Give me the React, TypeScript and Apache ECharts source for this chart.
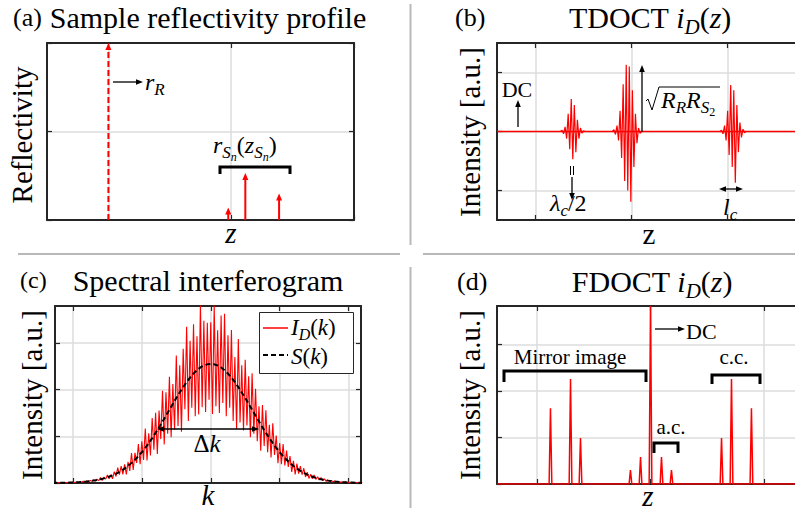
import React, { useEffect, useRef } from "react";
import * as echarts from "echarts";

// ---------------- data ----------------
// (a) sample reflectivity profile
const A_TICKS_X = [0, 1, 2];
const A_TICKS_Y = [0, 1, 2];
const A_REF_Z = [0];
const A_REF_R = [2];
const A_SAMPLE_Z = [0.976, 1.115, 1.39];
const A_SAMPLE_R = [0.14, 0.53, 0.3];

// (b) TDOCT wave packets (extrema)
const B_TICKS_X = [0, 1, 2];
const B_TICKS_Y = [-1, 0, 1];
const B_BASE_Z = [-0.4, 2.8];
const B_BASE_I = [0, 0];
const B_CENTERS = [0.39, 0.955, 2.06];
const B_STEP = 0.016;
const B_PACKET_1 = [0, 0.02, -0.04, 0.08, -0.12, 0.3, -0.3, 0.55, -0.47, 0.45, -0.35, 0.2, -0.12, 0.06, -0.03, 0.01, 0];
const B_PACKET_2 = [0, 0.03, -0.05, 0.1, -0.15, 0.35, -0.45, 0.8, -0.84, 1.13, -1.0, 1.1, -1.19, 0.7, -0.6, 0.3, -0.2, 0.06, -0.03, 0];
const B_PACKET_3 = [0, 0.02, -0.04, 0.1, -0.15, 0.35, -0.4, 0.79, -0.6, 0.7, -0.87, 0.45, -0.35, 0.15, -0.1, 0.04, -0.02, 0];

// (c) spectral interferogram
const C_TICKS_X = [0, 1, 2, 3, 4];
const C_TICKS_Y = [0, 1, 2, 3];
const C_ID_START = -0.25;
const C_ID_STEP = 0.025;
const C_ID = [
  0.005, 0.004, 0.007, 0.005, 0.008, 0.005, 0.010, 0.006, 0.012, 0.008,
  0.014, 0.010, 0.021, 0.012, 0.023, 0.014, 0.036, 0.021, 0.042, 0.022,
  0.055, 0.037, 0.074, 0.038, 0.081, 0.050, 0.120, 0.053, 0.129, 0.083,
  0.171, 0.088, 0.179, 0.090, 0.243, 0.139, 0.327, 0.179, 0.364, 0.185,
  0.402, 0.185, 0.455, 0.257, 0.641, 0.277, 0.646, 0.428, 0.832, 0.400,
  0.891, 0.494, 1.167, 0.481, 1.066, 0.589, 1.392, 0.711, 1.504, 0.623,
  1.550, 0.940, 1.973, 0.827, 1.945, 1.053, 2.274, 0.979, 2.118, 1.142,
  2.729, 1.221, 2.521, 1.098, 2.876, 1.581, 3.348, 1.326, 3.048, 1.611,
  3.397, 1.429, 3.141, 1.469, 3.836, 1.623, 3.472, 1.519, 3.430, 1.784,
  3.443, 1.478, 3.812, 1.645, 3.271, 1.498, 3.589, 1.714, 3.624, 1.429,
  3.163, 1.611, 3.274, 1.326, 2.700, 1.159, 3.081, 1.298, 2.521, 1.127,
  2.638, 1.230, 2.287, 0.979, 2.352, 1.053, 2.017, 0.896, 1.644, 0.689,
  1.669, 0.792, 1.557, 0.660, 1.248, 0.544, 1.280, 0.602, 1.017, 0.423,
  0.858, 0.400, 0.832, 0.375, 0.696, 0.346, 0.576, 0.237, 0.473, 0.185,
  0.417, 0.199, 0.364, 0.179, 0.316, 0.129, 0.234, 0.098, 0.186, 0.088,
  0.171, 0.077, 0.134, 0.067, 0.116, 0.050, 0.088, 0.035, 0.066, 0.035,
  0.055, 0.025, 0.045, 0.021, 0.034, 0.015, 0.024, 0.011, 0.020, 0.010,
  0.014,
  0.008, 0.012, 0.006, 0.010, 0.005, 0.008, 0.004, 0.006,
];
const C_S_START = -0.3;
const C_S_STEP = 0.05;
const C_S = [
  0.002, 0.003, 0.004, 0.005, 0.007, 0.009, 0.011, 0.015, 0.019, 0.025,
  0.032, 0.041, 0.051, 0.065, 0.080, 0.099, 0.122, 0.149, 0.180, 0.218,
  0.260, 0.309, 0.364, 0.427, 0.497, 0.574, 0.660, 0.753, 0.853, 0.960,
  1.074, 1.192, 1.315, 1.441, 1.568, 1.694, 1.819, 1.939, 2.054, 2.160,
  2.258, 2.343, 2.416, 2.475, 2.516, 2.541, 2.550,
  2.541, 2.516, 2.475, 2.416, 2.343, 2.258, 2.160, 2.054, 1.939, 1.819,
  1.694, 1.568, 1.441, 1.315, 1.192, 1.074, 0.960, 0.853, 0.753, 0.660,
  0.574, 0.497, 0.427, 0.364, 0.309, 0.260, 0.218, 0.180, 0.149, 0.122,
  0.099, 0.080, 0.065, 0.051, 0.041, 0.032, 0.025, 0.019, 0.015, 0.011,
  0.009, 0.007, 0.005, 0.004, 0.003, 0.002,
];

// (d) FDOCT peaks
const D_TICKS_X = [-1, 0, 1];
const D_TICKS_Y = [0, 1, 2, 3];
const D_PEAK_Z = [-0.883, -0.706, -0.618, -0.177, -0.088, 0, 0.097, 0.185, 0.627, 0.715, 0.891];
const D_PEAK_H = [1.63, 2.26, 0.99, 0.3, 0.58, 3.83, 0.58, 0.3, 0.99, 2.26, 1.63];
const D_PEAK_HALF = 0.012;

// ---------------- style / layout ----------------
const FONT = "Liberation Serif, Times New Roman, serif";
const RED = "#ff0000";
const AX = "#262626";
const GRIDC = "#dcdcdc";
const SEP = "#b8b8b8";

const PANELS = [
  { left: 47, top: 43, width: 307, height: 177, x: [-0.5, 2], y: [0, 2], xt: A_TICKS_X, yt: A_TICKS_Y },
  { left: 497, top: 43, width: 307, height: 177, x: [-0.4, 2.8], y: [-1.5, 1.5], xt: B_TICKS_X, yt: B_TICKS_Y },
  { left: 55, top: 306, width: 306, height: 177, x: [-0.26, 4.18], y: [0, 3.79], xt: C_TICKS_X, yt: C_TICKS_Y },
  { left: 497, top: 306, width: 307, height: 178, x: [-1.355, 1.355], y: [0, 3.83], xt: D_TICKS_X, yt: D_TICKS_Y },
];

function fontStr(size: number, italic: boolean) {
  return `${italic ? "italic" : "normal"} normal ${size}px ${FONT}`;
}

function rich(b: number) {
  const s = Math.round(b * 0.7);
  const ss = Math.round(b * 0.5);
  const padS = [Math.round(b * 0.62), 0, 0, 0];
  const padSS = [Math.round(b * 1.0), 0, 0, 0];
  return {
    rm: { font: fontStr(b, false), fontFamily: FONT, fontSize: b, verticalAlign: "middle" },
    it: { font: fontStr(b, true), fontFamily: FONT, fontSize: b, fontStyle: "italic", verticalAlign: "middle" },
    sub: { font: fontStr(s, true), fontFamily: FONT, fontSize: s, fontStyle: "italic", verticalAlign: "middle", padding: padS },
    subrm: { font: fontStr(s, false), fontFamily: FONT, fontSize: s, verticalAlign: "middle", padding: padS },
    ssub: { font: fontStr(ss, true), fontFamily: FONT, fontSize: ss, fontStyle: "italic", verticalAlign: "middle", padding: padSS },
    ssubrm: { font: fontStr(ss, false), fontFamily: FONT, fontSize: ss, verticalAlign: "middle", padding: padSS },
  };
}

function T(x: number, y: number, text: string, size: number, align = "left", rotation = 0): any {
  return {
    type: "text",
    x,
    y,
    rotation,
    z: 100,
    silent: true,
    style: {
      text,
      fill: "#000",
      font: fontStr(size, false),
      fontFamily: FONT,
      fontSize: size,
      align,
      verticalAlign: "middle",
      lineHeight: size,
      rich: rich(size),
    },
  };
}

function arrow(x1: number, y1: number, x2: number, y2: number, both = false, w = 1.3): any[] {
  const L = 7;
  const H = 2.8;
  const dx = x2 - x1;
  const dy = y2 - y1;
  const len = Math.hypot(dx, dy);
  const ux = dx / len;
  const uy = dy / len;
  const px = -uy;
  const py = ux;
  const head = (tx: number, ty: number, sx: number, sy: number) => ({
    type: "polygon",
    z: 100,
    silent: true,
    shape: {
      points: [
        [tx, ty],
        [tx - sx * L + px * H, ty - sy * L + py * H],
        [tx - sx * L - px * H, ty - sy * L - py * H],
      ],
    },
    style: { fill: "#000" },
  });
  const s = both ? [x1 + ux * L * 0.8, y1 + uy * L * 0.8] : [x1, y1];
  const e = [x2 - ux * L * 0.8, y2 - uy * L * 0.8];
  const els: any[] = [
    { type: "line", z: 100, silent: true, shape: { x1: s[0], y1: s[1], x2: e[0], y2: e[1] }, style: { stroke: "#000", lineWidth: w } },
    head(x2, y2, ux, uy),
  ];
  if (both) els.push(head(x1, y1, -ux, -uy));
  return els;
}

function poly(points: number[][], w = 3, color = "#000", dash: any = null): any {
  return { type: "polyline", z: 100, silent: true, shape: { points }, style: { stroke: color, lineWidth: w, fill: "none", lineDash: dash } };
}

function seg(x1: number, y1: number, x2: number, y2: number, w: number, color: string, dash: any = null): any {
  return { type: "line", z: 100, silent: true, shape: { x1, y1, x2, y2 }, style: { stroke: color, lineWidth: w, lineDash: dash } };
}

function buildAxes() {
  const xAxis: any[] = [];
  const yAxis: any[] = [];
  PANELS.forEach((p, g) => {
    const axLine = () => ({ show: true, onZero: false, lineStyle: { color: AX, width: 2 } });
    const tick = (vals: number[]) => ({ show: true, inside: true, length: 5, customValues: vals, lineStyle: { color: AX, width: 1.2 } });
    ["bottom", "top"].forEach((pos, k) => {
      xAxis.push({
        type: "value",
        gridIndex: g,
        position: pos,
        min: p.x[0],
        max: p.x[1],
        axisLine: axLine(),
        axisTick: tick(p.xt),
        axisLabel: { show: false, customValues: p.xt },
        splitLine: { show: k === 0, lineStyle: { color: GRIDC, width: 1.5 } },
      });
    });
    ["left", "right"].forEach((pos, k) => {
      yAxis.push({
        type: "value",
        gridIndex: g,
        position: pos,
        min: p.y[0],
        max: p.y[1],
        axisLine: axLine(),
        axisTick: tick(p.yt),
        axisLabel: { show: false, customValues: p.yt },
        splitLine: { show: k === 0, lineStyle: { color: GRIDC, width: 1.5 } },
      });
    });
  });
  return { xAxis, yAxis };
}

function stemSeries(zs: number[], rs: number[], dashed: boolean): any {
  return {
    type: "custom",
    xAxisIndex: 0,
    yAxisIndex: 0,
    silent: true,
    z: 10,
    clip: false,
    data: zs.map((z, i) => [z, rs[i]]),
    renderItem: (_params: any, api: any) => {
      const z = api.value(0);
      const r = api.value(1);
      const p0 = api.coord([z, 0]);
      const p1 = api.coord([z, r]);
      const L = 7;
      const H = 3;
      return {
        type: "group",
        children: [
          {
            type: "line",
            shape: { x1: p0[0], y1: p0[1], x2: p1[0], y2: p1[1] + L * 0.8 },
            style: { stroke: RED, lineWidth: 2, lineDash: dashed ? [6, 3] : null },
          },
          {
            type: "polygon",
            shape: { points: [[p1[0], p1[1]], [p1[0] - H, p1[1] + L], [p1[0] + H, p1[1] + L]] },
            style: { fill: RED },
          },
        ],
      };
    },
  };
}

// red base line of panel (b), drawn on top through the axes' scales
function baseSeries(): any {
  return {
    type: "custom",
    xAxisIndex: 2,
    yAxisIndex: 2,
    silent: true,
    z: 20,
    data: [[B_BASE_Z[0], B_BASE_I[0], B_BASE_Z[1], B_BASE_I[1]]],
    renderItem: (_params: any, api: any) => {
      const a = api.coord([api.value(0), api.value(1)]);
      const b = api.coord([api.value(2), api.value(3)]);
      return {
        type: "line",
        shape: { x1: a[0], y1: a[1], x2: b[0], y2: b[1] },
        style: { stroke: RED, lineWidth: 1.7 },
      };
    },
  };
}

function buildOption(): any {
  const { xAxis, yAxis } = buildAxes();

  // (b) series data
  const bData: number[][] = [[B_BASE_Z[0], B_BASE_I[0]]];
  [B_PACKET_1, B_PACKET_2, B_PACKET_3].forEach((pk, j) => {
    const c = B_CENTERS[j];
    pk.forEach((v, k) => bData.push([c + (k - (pk.length - 1) / 2) * B_STEP, v]));
  });
  bData.push([B_BASE_Z[1], B_BASE_I[1]]);

  // (c) series data
  const idData = C_ID.map((v, i) => [C_ID_START + i * C_ID_STEP, v]);
  const sData = C_S.map((v, i) => [C_S_START + i * C_S_STEP, v]);

  // (d) series data
  const dData: number[][] = [[PANELS[3].x[0], 0]];
  D_PEAK_Z.forEach((z, i) => {
    dData.push([z - D_PEAK_HALF, 0], [z, D_PEAK_H[i]], [z + D_PEAK_HALF, 0]);
  });
  dData.push([PANELS[3].x[1], 0]);

  const lineBase = { type: "line", showSymbol: false, symbol: "none", silent: true, z: 10 };

  const elements: any[] = [
    // separators
    seg(410.5, 4, 410.5, 245, 2, SEP),
    seg(410.5, 267, 410.5, 508, 2, SEP),
    seg(18, 254, 400, 254, 2, SEP),
    seg(423, 254, 795, 254, 2, SEP),

    // titles
    T(13, 17, "(a)", 26),
    T(208, 17, "Sample reflectivity profile", 30, "center"),
    T(455, 17, "(b)", 26),
    T(650, 17, "{rm|TDOCT }{it|i}{sub|D}{rm|(}{it|z}{rm|)}", 30, "center"),
    T(20, 280, "(c)", 24),
    T(208, 280, "Spectral interferogram", 30, "center"),
    T(457, 281, "(d)", 26),
    T(652, 281, "{rm|FDOCT }{it|i}{sub|D}{rm|(}{it|z}{rm|)}", 30, "center"),

    // axis labels
    T(22, 135, "Reflectivity", 29, "center", Math.PI / 2),
    T(470, 132, "Intensity [a.u.]", 29, "center", Math.PI / 2),
    T(32, 395, "Intensity [a.u.]", 29, "center", Math.PI / 2),
    T(470, 395, "Intensity [a.u.]", 29, "center", Math.PI / 2),
    T(231, 233, "{it|z}", 29, "center"),
    T(649, 234, "z", 29, "center"),
    T(208, 495, "{it|k}", 29, "center"),
    T(648, 496, "{it|z}", 29, "center"),

    // (a) annotations
    ...arrow(113, 82, 143, 82),
    T(145, 82, "{it|r}{sub|R}", 24),
    poly([[220, 174], [220, 167], [290, 167], [290, 174]], 3),
    T(213, 145, "{it|r}{sub|S}{ssub|n}{rm|(}{it|z}{sub|S}{ssub|n}{rm|)}", 24),

    // (b) annotations
    T(517, 89, "DC", 22, "center"),
    ...arrow(518, 127, 518, 100),
    ...arrow(642, 132, 642, 65),
    poly([[646, 101], [648, 99], [652, 110], [659, 87], [720, 87]], 1),
    T(661, 100, "{it|R}{sub|R}{it|R}{sub|S}{ssubrm|2}", 24),
    seg(570.5, 166, 570.5, 175, 1, "#000"),
    seg(573.5, 166, 573.5, 175, 1, "#000"),
    ...arrow(572, 177, 572, 200),
    T(550, 203, "{it|λ}{sub|c}{rm|/2}", 24),
    ...arrow(719, 189, 743, 189, true),
    T(723, 207, "{it|l}{sub|c}", 24),

    // (c) legend + annotations
    { type: "rect", z: 100, silent: true, shape: { x: 259.5, y: 312.5, width: 94, height: 61 }, style: { fill: "#fff", stroke: AX, lineWidth: 1 } },
    seg(263, 328, 288, 328, 1.5, RED),
    T(291, 327, "{it|I}{sub|D}{rm|(}{it|k}{rm|)}", 23),
    seg(263, 355, 288, 355, 2, "#000", [5, 3]),
    T(291, 356, "{it|S}{rm|(}{it|k}{rm|)}", 23),
    ...arrow(157, 429, 259, 429, true, 1.5),
    T(207, 443, "{rm|Δ}{it|k}", 25, "center"),

    // (d) annotations
    ...arrow(655, 329, 685, 329),
    T(686, 331, "DC", 22),
    poly([[504, 382], [504, 371], [646, 371], [646, 382]], 3),
    T(570, 357, "Mirror image", 21, "center"),
    poly([[654, 453], [654, 443], [678, 443], [678, 453]], 3),
    T(671, 427, "a.c.", 21, "center"),
    poly([[712, 384], [712, 375], [760, 375], [760, 384]], 3),
    T(734, 357, "c.c.", 21, "center"),
  ];

  return {
    animation: false,
    backgroundColor: "#ffffff",
    grid: PANELS.map((p) => ({
      left: p.left,
      top: p.top,
      width: p.width,
      height: p.height,
      containLabel: false,
      outerBoundsMode: "none",
      show: false,
    })),
    xAxis,
    yAxis,
    series: [
      stemSeries(A_REF_Z, A_REF_R, true),
      stemSeries(A_SAMPLE_Z, A_SAMPLE_R, false),
      { ...lineBase, xAxisIndex: 2, yAxisIndex: 2, data: bData, lineStyle: { color: RED, width: 1.2 } },
      baseSeries(),
      { ...lineBase, xAxisIndex: 4, yAxisIndex: 4, data: idData, lineStyle: { color: RED, width: 1.1 } },
      { ...lineBase, xAxisIndex: 4, yAxisIndex: 4, data: sData, z: 11, lineStyle: { color: "#000", width: 2, type: [5, 3] } },
      { ...lineBase, xAxisIndex: 6, yAxisIndex: 6, data: dData, lineStyle: { color: RED, width: 1.5 } },
    ],
    graphic: { elements },
  };
}

export default function App() {
  const ref = useRef<HTMLDivElement>(null);
  useEffect(() => {
    document.body.style.margin = "0";
    const chart = echarts.init(ref.current as HTMLDivElement, null, { renderer: "svg" });
    chart.setOption(buildOption());
    return () => chart.dispose();
  }, []);
  return <div ref={ref} style={{ width: 795, height: 511, overflow: "hidden" }} />;
}
